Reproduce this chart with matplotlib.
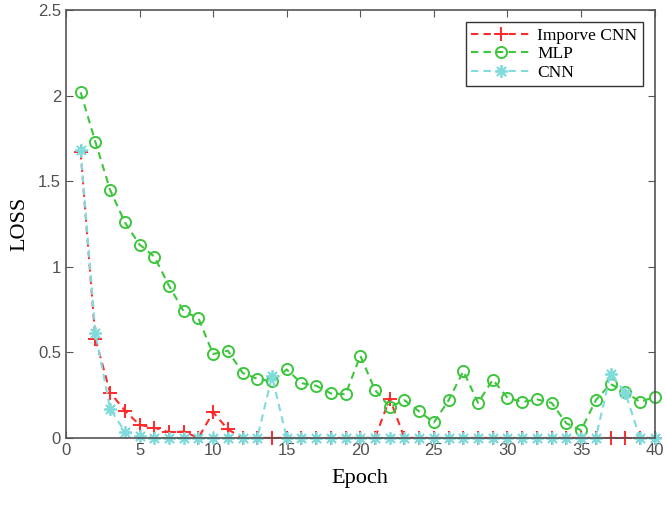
import numpy as np
import matplotlib
matplotlib.use('Agg')
import matplotlib.pyplot as plt
from matplotlib.ticker import FormatStrFormatter

epochs = list(range(1, 41))

improve_cnn = [1.67, 0.58, 0.265, 0.16, 0.076, 0.06, 0.033, 0.037, 0.0, 0.15,
               0.05, 0.0, 0.0, 0.0, 0.0, 0.0, 0.0, 0.0, 0.0, 0.0,
               0.0, 0.23, 0.0, 0.0, 0.0, 0.0, 0.0, 0.0, 0.0, 0.0,
               0.0, 0.0, 0.0, 0.0, 0.0, 0.0, 0.0, 0.0, 0.0, 0.0]

mlp = [2.02, 1.73, 1.45, 1.26, 1.13, 1.06, 0.89, 0.74, 0.70, 0.49,
       0.51, 0.38, 0.345, 0.33, 0.40, 0.32, 0.305, 0.26, 0.255, 0.48,
       0.28, 0.18, 0.22, 0.155, 0.09, 0.22, 0.39, 0.205, 0.34, 0.235,
       0.21, 0.225, 0.205, 0.085, 0.045, 0.22, 0.315, 0.27, 0.21, 0.24]

cnn = [1.68, 0.615, 0.17, 0.037, 0.012, 0.0, 0.0, 0.0, 0.0, 0.0,
       0.0, 0.0, 0.0, 0.36, 0.0, 0.0, 0.0, 0.0, 0.0, 0.0,
       0.0, 0.0, 0.0, 0.0, 0.0, 0.0, 0.0, 0.0, 0.0, 0.0,
       0.0, 0.0, 0.0, 0.0, 0.0, 0.0, 0.375, 0.265, 0.0, 0.0]

fig = plt.figure(figsize=(6.66, 5.08), dpi=100)
ax = fig.add_axes([0.099, 0.138, 0.884, 0.842])

dash = (3.5, 2.5)
ax.plot(epochs, improve_cnn, '--', color='#ff2a2a', lw=1.5, marker='+',
        ms=10, mew=1.4, dashes=dash, clip_on=False, label='Imporve CNN')
ax.plot(epochs, mlp, '--', color='#3dc63d', lw=1.5, marker='o', ms=8,
        mfc='none', mew=1.4, dashes=dash, clip_on=False, label='MLP')
ax.plot(epochs, cnn, '--', color='#80dcdc', lw=1.5, marker=(8, 2, 0), ms=9,
        mew=1.3, dashes=dash, clip_on=False, label='CNN')

ax.set_xlim(0, 40)
ax.set_ylim(0, 2.5)
ax.set_xticks(range(0, 41, 5))
ax.set_yticks(np.arange(0, 2.51, 0.5))
ax.yaxis.set_major_formatter(FormatStrFormatter('%g'))
ax.tick_params(direction='in', top=True, right=True, labelsize=12,
               labelcolor='#505050', color='#555555', length=5)
for s in ax.spines.values():
    s.set_color('#555555')
    s.set_linewidth(1.2)
for lab in ax.get_xticklabels() + ax.get_yticklabels():
    lab.set_family('Liberation Sans')

ax.set_xlabel('Epoch', family='Liberation Serif', fontsize=16, labelpad=8)
ax.set_ylabel('LOSS', family='Liberation Serif', fontsize=16, labelpad=6)

leg = ax.legend(loc='upper right', prop={'family': 'Liberation Serif', 'size': 12.5},
                handlelength=3.4, fancybox=False, edgecolor='#333333',
                borderpad=0.3, labelspacing=0.15, handletextpad=0.4,
                borderaxespad=0.7, framealpha=1)
leg.get_frame().set_linewidth(1.0)

fig.savefig('out.png', dpi=100)
